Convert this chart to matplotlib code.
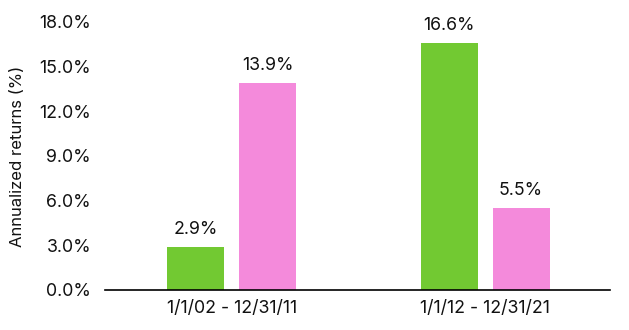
import matplotlib.pyplot as plt
import numpy as np

plt.rcParams['font.family'] = ['Inter', 'DejaVu Sans']

periodos = ["1/1/02 - 12/31/11", "1/1/12 - 12/31/21"]
serie_verde = [2.9, 16.6]
serie_rosa = [13.9, 5.5]
yticks = [0, 3, 6, 9, 12, 15, 18]

verde = '#72c932'
rosa = '#f48adb'

fig = plt.figure(figsize=(6.29, 3.30), dpi=100)
ax = fig.add_axes([105/629, 40/330, 505/629, 268/330])

x = np.arange(len(periodos))
ancho = 0.225
off = 0.142
b1 = ax.bar(x - off, serie_verde, ancho, color=verde)
b2 = ax.bar(x + off, serie_rosa, ancho, color=rosa)

for barras, vals in [(b1, serie_verde), (b2, serie_rosa)]:
    for b, v in zip(barras, vals):
        ax.text(b.get_x() + b.get_width()/2, v + 0.6, "{:.1f}%".format(v),
                ha='center', va='bottom', fontsize=12.8, color='#111111')

ax.set_xlim(-0.5, 1.493)
ax.set_ylim(0, 18)
ax.set_yticks(yticks)
ax.set_yticklabels(["{:.1f}%".format(t) for t in yticks], fontsize=12.8, color='#111111')
ax.set_xticks(x)
ax.set_xticklabels(periodos, fontsize=12.8, color='#111111')
ax.tick_params(length=0)
ax.tick_params(axis='y', pad=10)
ax.tick_params(axis='x', pad=7)
for s in ['top', 'right', 'left']:
    ax.spines[s].set_visible(False)
ax.spines['bottom'].set_linewidth(1.2)
ax.set_ylabel("Annualized returns (%)", fontsize=12, color='#111111', labelpad=10)

fig.savefig('out.png', dpi=100)
